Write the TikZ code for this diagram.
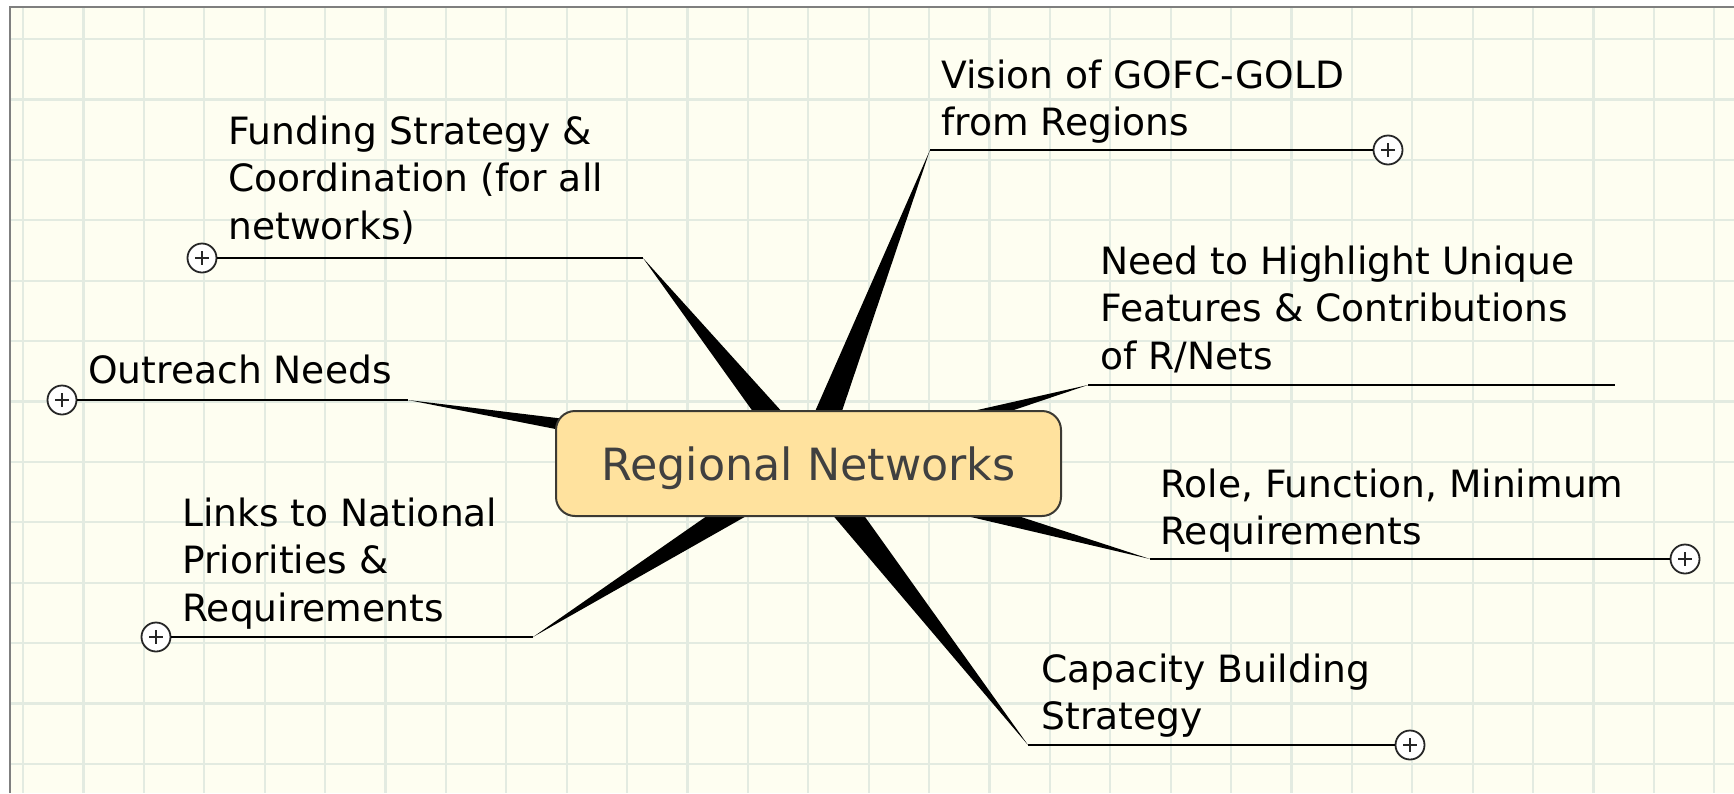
\documentclass[tikz,border=0pt]{standalone}
\usepackage{fontspec}
\setmainfont{DejaVu Sans}
\usetikzlibrary{calc}
\definecolor{paper}{HTML}{FEFEF1}
\definecolor{gridline}{HTML}{E3EBE1}
\definecolor{hubfill}{HTML}{FFE29E}
\definecolor{hubline}{HTML}{3C3A33}
\definecolor{frameline}{HTML}{7F7F7F}
\begin{document}
\begin{tikzpicture}[x=0.5pt, y=-0.5pt,
  gridln/.style={gridline, line width=1.1pt},
  spoke/.style={fill=black},
  twig/.style={line width=1.3pt},
  plus/.style={circle, draw=black!85, line width=0.9pt, fill=white, minimum size=14.5pt, inner sep=0pt,
    path picture={\draw[line width=0.6pt] ([xshift=-3.3pt]path picture bounding box.center) -- ([xshift=3.3pt]path picture bounding box.center)
      ([yshift=-3.3pt]path picture bounding box.center) -- ([yshift=3.3pt]path picture bounding box.center);}},
  lbl/.style={anchor=base west, align=left, inner sep=0pt, text=black, font=\fontsize{18.8}{23.75}\selectfont},
  hub/.style={draw=hubline, line width=1pt, fill=hubfill, rounded corners=9.5pt, minimum width=252.5pt, minimum height=52.5pt,
    text=black!75, text depth=0pt, font=\fontsize{22.2}{26}\selectfont}]
\useasboundingbox (0,0) rectangle (1734,793);
\fill[white] (0,0) rectangle (1734,793);
\fill[paper] (10,7) rectangle (1734,793);
\foreach \i in {0,...,28} \draw[gridln] ({23+60.4*\i},7) -- ({23+60.4*\i},793);
\foreach \j in {0,...,12} \draw[gridln] (10,{39+60.4*\j}) -- (1734,{39+60.4*\j});
\draw[frameline, line width=1pt] (10,793) -- (10,7) -- (1734,7);

\coordinate (hub) at (808.5,463.5);
\coordinate (vis) at (930,150);
\coordinate (fund) at (643,258);
\coordinate (need) at (1088,385);
\coordinate (out) at (408,400);
\coordinate (role) at (1150,559);
\coordinate (link) at (533,637);
\coordinate (cap) at (1028,745);
\coordinate (need-end) at (1615,385);

\foreach \b in {vis,fund,need,out,role,link,cap}
  \fill[spoke] (\b) -- ($(hub)!7.5pt!90:(\b)$) -- ($(hub)!7.5pt!-90:(\b)$) -- cycle;

\node[hub] (regnet) at (hub) {Regional Networks};

\node[plus] (vis-p) at (1388,150) {};
\node[plus] (fund-p) at (202,258) {};
\node[plus] (out-p) at (62,400) {};
\node[plus] (role-p) at (1685,559) {};
\node[plus] (link-p) at (156,637) {};
\node[plus] (cap-p) at (1410,745) {};
\draw[twig] (vis) -- (vis-p);
\draw[twig] (fund) -- (fund-p);
\draw[twig] (need) -- (need-end);
\draw[twig] (out) -- (out-p);
\draw[twig] (role) -- (role-p);
\draw[twig] (link) -- (link-p);
\draw[twig] (cap) -- (cap-p);

\node[lbl] (vis-t) at (941,135.5) {Vision of GOFC-GOLD\\from Regions};
\node[lbl] (fund-t) at (228,239) {Funding Strategy \&\\Coordination (for all\\networks)};
\node[lbl] (need-t) at (1100,369) {Need to Highlight Unique\\Features \& Contributions\\of R/Nets};
\node[lbl] (out-t) at (88,383) {Outreach Needs};
\node[lbl] (role-t) at (1160,544.5) {Role, Function, Minimum\\Requirements};
\node[lbl] (link-t) at (182,621) {Links to National\\Priorities \&\\Requirements};
\node[lbl] (cap-t) at (1041,729.5) {Capacity Building\\Strategy};
\end{tikzpicture}
\end{document}
